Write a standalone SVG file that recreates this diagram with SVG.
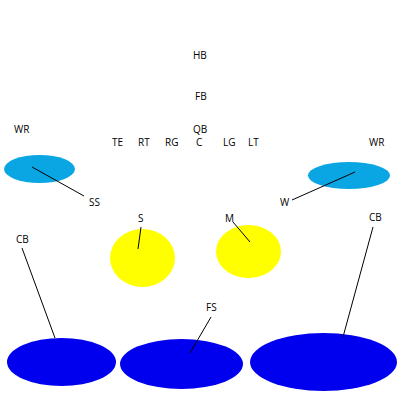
<svg xmlns="http://www.w3.org/2000/svg" width="400" height="400" viewBox="0 0 400 400">
<style>
text{font-family:"Open Sans","Liberation Sans",sans-serif;font-size:10px;fill:#000}
.lb{fill:#0aa6e4}
.yl{fill:#ffff00}
.bl{fill:#0000ee}
line{stroke:#000;stroke-width:1}
</style>
<rect width="400" height="400" fill="#fff"/>
<g id="zones">
<ellipse id="zone-left-flat" class="lb" cx="39.5" cy="169" rx="35.5" ry="14"/>
<ellipse id="zone-right-flat" class="lb" cx="349" cy="175.5" rx="41" ry="13.5"/>
<ellipse id="zone-s" class="yl" cx="142.5" cy="258" rx="32.5" ry="29"/>
<ellipse id="zone-m" class="yl" cx="248.5" cy="251.5" rx="32.5" ry="26.5"/>
<ellipse id="zone-deep-left" class="bl" cx="61.5" cy="362" rx="54.5" ry="24"/>
<ellipse id="zone-deep-mid" class="bl" cx="181.5" cy="364" rx="61.5" ry="25"/>
<ellipse id="zone-deep-right" class="bl" cx="323.5" cy="362" rx="73.5" ry="29"/>
</g>
<g id="connectors">
<line x1="32" y1="167" x2="84" y2="196"/>
<line x1="355" y1="172" x2="292" y2="200"/>
<line x1="141" y1="227" x2="138" y2="249"/>
<line x1="233" y1="222" x2="250" y2="242"/>
<line x1="22" y1="248" x2="55" y2="338"/>
<line x1="211" y1="317" x2="190" y2="353"/>
<line x1="373" y1="227" x2="343" y2="337"/>
</g>
<g id="offense">
<text x="193" y="59">HB</text>
<text x="195" y="100">FB</text>
<text x="193" y="133">QB</text>
<text x="14" y="133">WR</text>
<text x="369" y="146">WR</text>
<text x="112" y="146">TE</text>
<text x="138" y="146">RT</text>
<text x="165" y="146">RG</text>
<text x="196" y="146">C</text>
<text x="223" y="146">LG</text>
<text x="248" y="146">LT</text>
</g>
<g id="defense">
<text x="89" y="206">SS</text>
<text x="280" y="206">W</text>
<text x="138" y="222">S</text>
<text x="225" y="222">M</text>
<text x="16" y="243">CB</text>
<text x="369" y="221">CB</text>
<text x="206" y="311">FS</text>
</g>
</svg>
